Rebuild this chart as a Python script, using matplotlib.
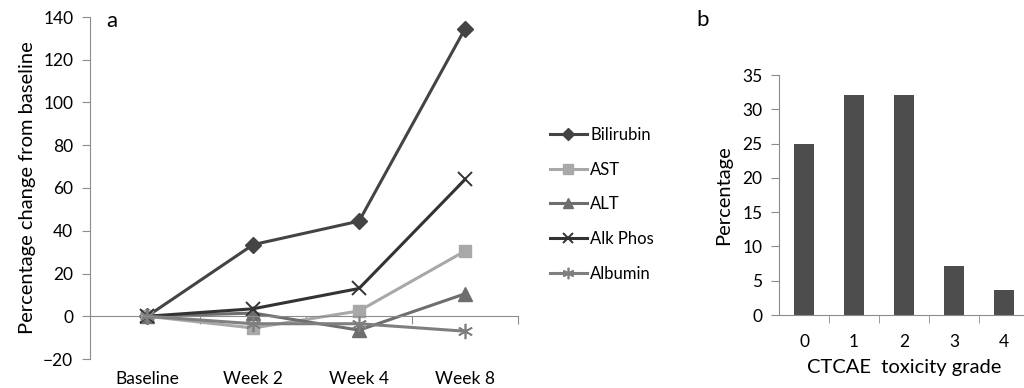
import matplotlib
matplotlib.use("Agg")
import matplotlib.pyplot as plt
import matplotlib.transforms as mtransforms
import numpy as np

plt.rcParams['font.family'] = ['Lato', 'DejaVu Sans']

timepoints = ["Baseline", "Week 2", "Week 4", "Week 8"]
bilirubin = [0, 33.5, 44.5, 134.5]
ast = [0, -5.5, 2.5, 30.5]
alt = [0, 1.5, -6.5, 10.5]
alk_phos = [0, 3.5, 13, 64]
albumin = [0, -3.5, -3.5, -7]

grades = ["0", "1", "2", "3", "4"]
grade_pct = [25.0, 32.1, 32.1, 7.1, 3.6]

W, H = 1024, 388
fig = plt.figure(figsize=(W / 100, H / 100), dpi=100)
fig.patch.set_facecolor("white")

axis_col = "#8c8c8c"

# ---- panel a ----
ax = fig.add_axes([90 / W, (H - 359) / H, 428 / W, 342 / H])
x = np.arange(len(timepoints))
series = [
    ("Bilirubin", bilirubin, "#444444", "D", 8, {}),
    ("AST", ast, "#a8a8a8", "s", 9, {}),
    ("ALT", alt, "#6e6e6e", "^", 10, {}),
    ("Alk Phos", alk_phos, "#333333", "x", 10, {"markeredgewidth": 1.4}),
    ("Albumin", albumin, "#7f7f7f", (6, 2, 0), 11, {"markeredgewidth": 1.2}),
]
for name, vals, col, mk, ms, kw in series:
    ax.plot(x, vals, color=col, lw=2.2, marker=mk, markersize=ms,
            markerfacecolor=col, markeredgecolor=col, label=name, **kw)

ax.set_xlim(-0.54, 3.5)
ax.set_ylim(-20, 140)
ax.set_yticks(np.arange(-20, 141, 20))
for s in ["top", "right"]:
    ax.spines[s].set_visible(False)
ax.spines["left"].set_color(axis_col)
ax.spines["bottom"].set_color(axis_col)
ax.spines["bottom"].set_position(("data", 0))
ax.set_xticks(np.arange(0.5, 3.6, 1))
ax.set_xticklabels([])
ax.tick_params(axis="x", direction="out", length=6, color=axis_col)
ax.tick_params(axis="y", direction="out", length=6, color=axis_col,
               labelsize=12.5, pad=6)
lab_tr = mtransforms.blended_transform_factory(ax.transData, fig.transFigure)
for i, lab in enumerate(timepoints):
    ax.text(i, 1.5 / H, lab, transform=lab_tr,
            ha="center", va="bottom", fontsize=12.5)
ax.set_ylabel("Percentage change from baseline", fontsize=14.5, labelpad=5)
ax.text(112 / W, (H - 21) / H, "a", transform=fig.transFigure,
        fontsize=16, ha="center", va="center")

leg = ax.legend(loc="upper left", bbox_to_anchor=(535 / W, (H - 112) / H),
                bbox_transform=fig.transFigure, frameon=False, fontsize=12,
                handlelength=2.2, handletextpad=0.2, labelspacing=1.12,
                markerscale=0.75)

# ---- panel b ----
bx = fig.add_axes([779 / W, (H - 315) / H, 250 / W, 240 / H])
xb = np.arange(len(grades))
bx.bar(xb, grade_pct, width=0.4, color="#4d4d4d")
bx.set_xlim(-0.5, 4.5)
bx.set_ylim(0, 35)
bx.set_yticks(np.arange(0, 36, 5))
bx.set_xticks(xb)
bx.set_xticklabels(grades)
bx.set_xticks(np.arange(0.5, 4.6, 1), minor=True)
for s in ["top", "right"]:
    bx.spines[s].set_visible(False)
bx.spines["left"].set_color(axis_col)
bx.spines["bottom"].set_color(axis_col)
bx.tick_params(axis="x", which="major", length=0, labelsize=12.5, pad=14)
bx.tick_params(axis="x", which="minor", direction="out", length=6, color=axis_col)
bx.tick_params(axis="y", direction="out", length=6, color=axis_col,
               labelsize=12.5, pad=6)
bx.set_ylabel("Percentage", fontsize=14.5, labelpad=7)
bx.set_xlabel("CTCAE  toxicity grade", fontsize=14.5, labelpad=6)
fig.text(703 / W, (H - 20) / H, "b", fontsize=16, ha="center", va="center")

fig.savefig("out.png", dpi=100, facecolor="white")
